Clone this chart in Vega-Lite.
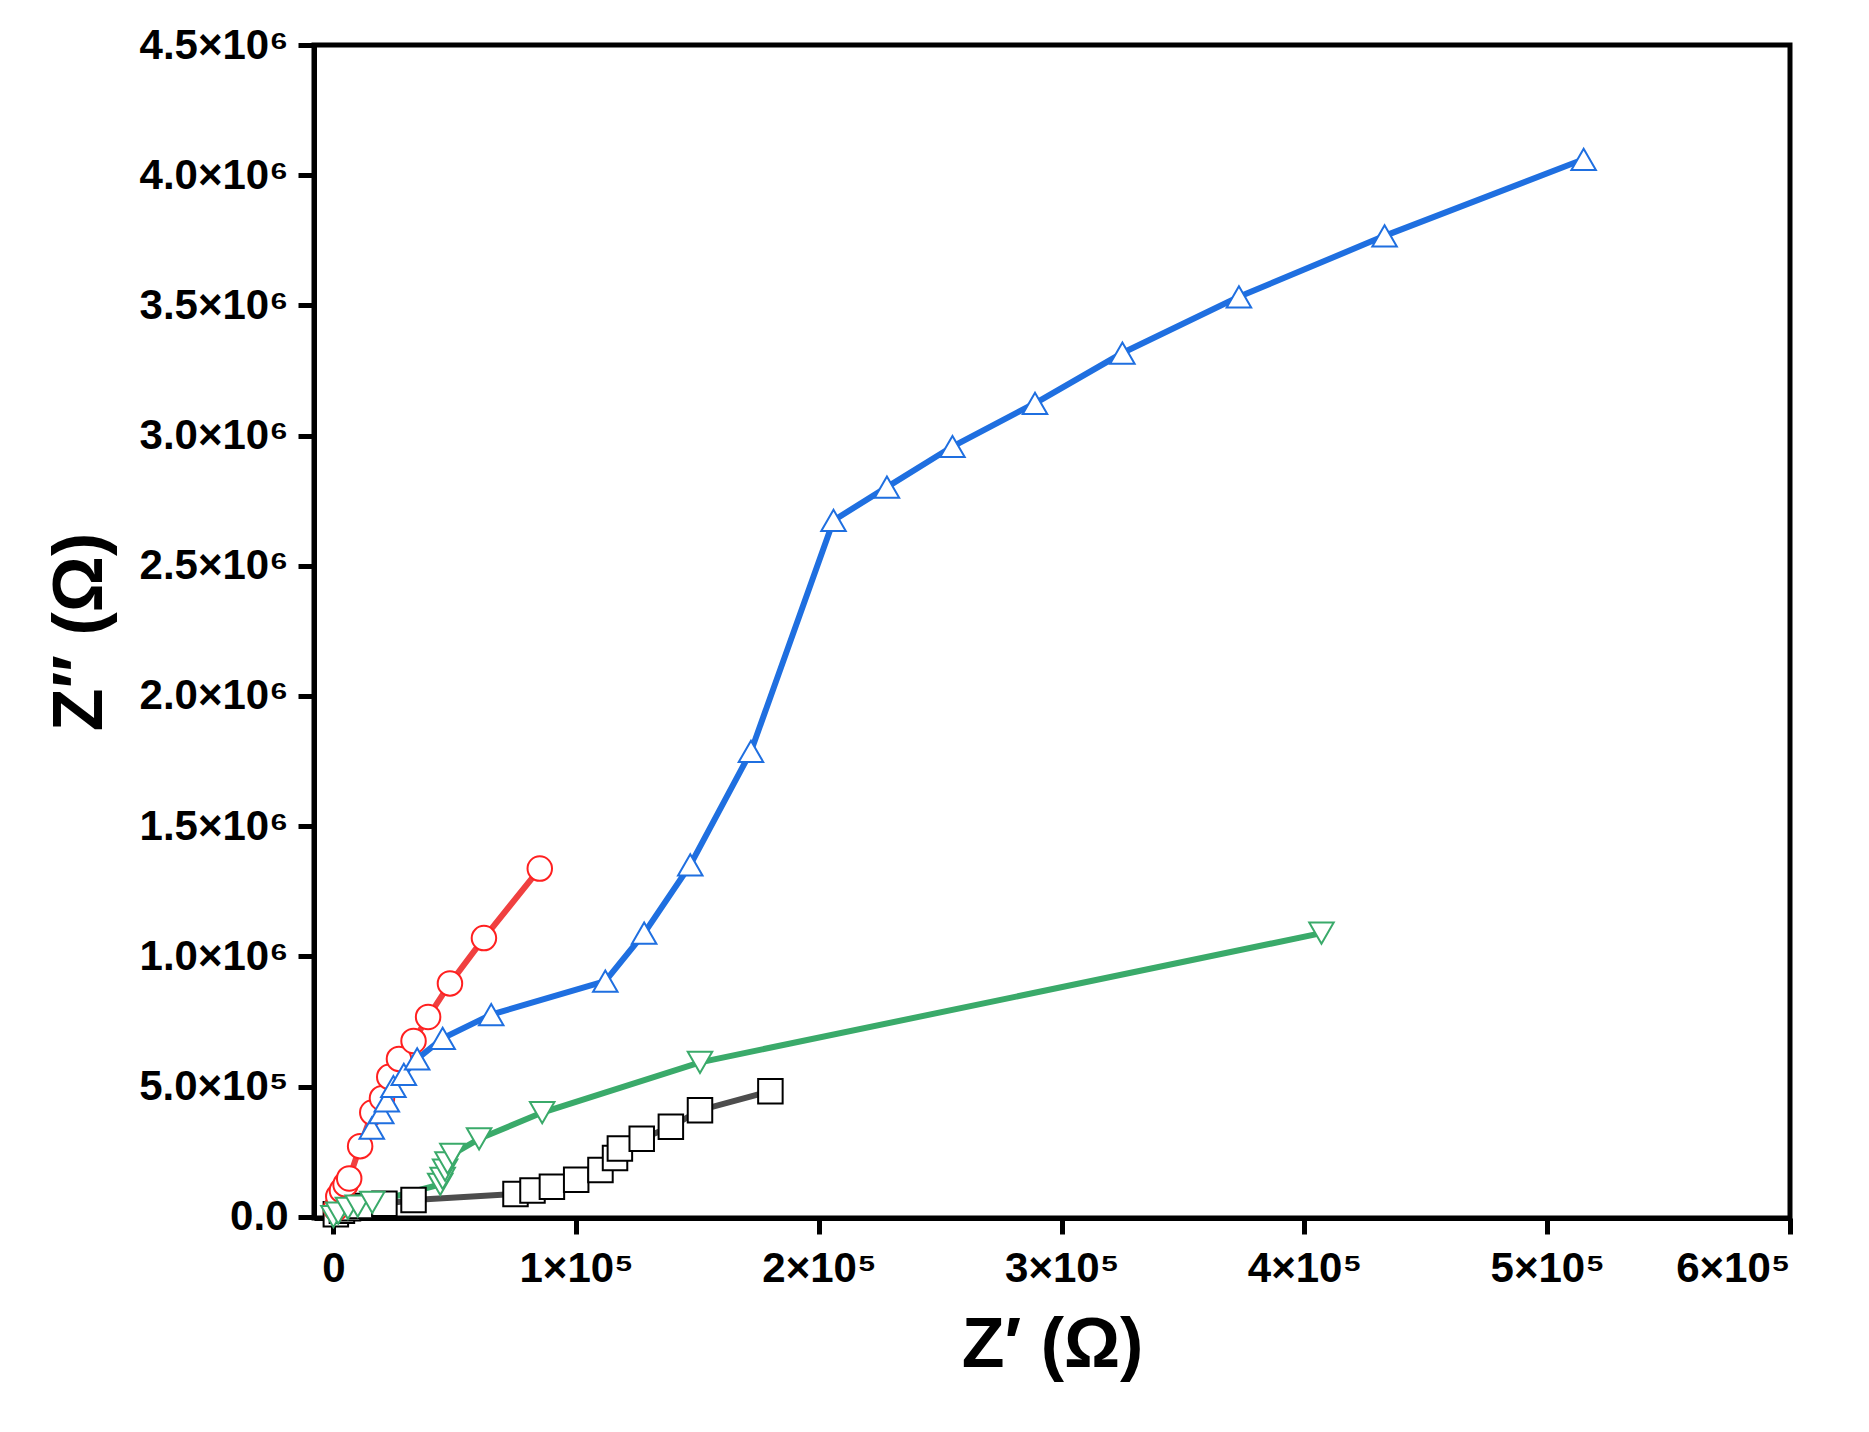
{
  "$schema": "https://vega.github.io/schema/vega-lite/v6.json",
  "width": 1476,
  "height": 1173,
  "autosize": "none",
  "padding": {"left": 314, "top": 45, "right": 79, "bottom": 214},
  "background": "white",
  "config": {
    "font": "Liberation Sans",
    "view": {"stroke": "black", "strokeWidth": 5},
    "axis": {"labelFont": "Liberation Sans", "labelFontWeight": "bold", "labelFontSize": 42, "labelColor": "black",
             "titleFont": "Liberation Sans", "titleFontWeight": "bold", "titleFontSize": 70, "titleColor": "black",
             "domainColor": "black", "domainWidth": 5, "tickColor": "black", "tickWidth": 5, "tickSize": 16, "grid": false}
  },
  "data": {"values": [
    {"s":"PVA","o":1,"x":1000,"y":9000},{"s":"PVA","o":2,"x":3500,"y":23000},{"s":"PVA","o":3,"x":6000,"y":32000},
    {"s":"PVA","o":4,"x":11000,"y":41000},{"s":"PVA","o":5,"x":21000,"y":50000},{"s":"PVA","o":6,"x":33000,"y":64000},
    {"s":"PVA","o":7,"x":75000,"y":87000},{"s":"PVA","o":8,"x":82000,"y":101000},{"s":"PVA","o":9,"x":90000,"y":115000},
    {"s":"PVA","o":10,"x":100000,"y":142000},{"s":"PVA","o":11,"x":110000,"y":179000},{"s":"PVA","o":12,"x":116000,"y":225000},
    {"s":"PVA","o":13,"x":118000,"y":262000},{"s":"PVA","o":14,"x":127000,"y":299000},{"s":"PVA","o":15,"x":139000,"y":345000},
    {"s":"PVA","o":16,"x":151000,"y":409000},{"s":"PVA","o":17,"x":180000,"y":482000},
    {"s":"1Ag/PVA","o":1,"x":1000,"y":32000},{"s":"1Ag/PVA","o":2,"x":2000,"y":78000},{"s":"1Ag/PVA","o":3,"x":3500,"y":101000},
    {"s":"1Ag/PVA","o":4,"x":5000,"y":124000},{"s":"1Ag/PVA","o":5,"x":6500,"y":147000},{"s":"1Ag/PVA","o":6,"x":11000,"y":271000},
    {"s":"1Ag/PVA","o":7,"x":16000,"y":400000},{"s":"1Ag/PVA","o":8,"x":20000,"y":455000},{"s":"1Ag/PVA","o":9,"x":23000,"y":537000},
    {"s":"1Ag/PVA","o":10,"x":27000,"y":606000},{"s":"1Ag/PVA","o":11,"x":33000,"y":675000},{"s":"1Ag/PVA","o":12,"x":39000,"y":767000},
    {"s":"1Ag/PVA","o":13,"x":48000,"y":896000},{"s":"1Ag/PVA","o":14,"x":62000,"y":1070000},{"s":"1Ag/PVA","o":15,"x":85000,"y":1337000},
    {"s":"3Ag/PVA","o":1,"x":15800,"y":340000},{"s":"3Ag/PVA","o":2,"x":19700,"y":400000},{"s":"3Ag/PVA","o":3,"x":22000,"y":445000},
    {"s":"3Ag/PVA","o":4,"x":24700,"y":500000},{"s":"3Ag/PVA","o":5,"x":29000,"y":547000},{"s":"3Ag/PVA","o":6,"x":34500,"y":606000},
    {"s":"3Ag/PVA","o":7,"x":45000,"y":685000},{"s":"3Ag/PVA","o":8,"x":65000,"y":776000},{"s":"3Ag/PVA","o":9,"x":112000,"y":905000},
    {"s":"3Ag/PVA","o":10,"x":128000,"y":1089000},{"s":"3Ag/PVA","o":11,"x":147000,"y":1351000},{"s":"3Ag/PVA","o":12,"x":172000,"y":1787000},
    {"s":"3Ag/PVA","o":13,"x":206000,"y":2674000},{"s":"3Ag/PVA","o":14,"x":228000,"y":2802000},{"s":"3Ag/PVA","o":15,"x":255000,"y":2958000},
    {"s":"3Ag/PVA","o":16,"x":289000,"y":3124000},{"s":"3Ag/PVA","o":17,"x":325000,"y":3317000},{"s":"3Ag/PVA","o":18,"x":373000,"y":3533000},
    {"s":"3Ag/PVA","o":19,"x":433000,"y":3767000},{"s":"3Ag/PVA","o":20,"x":515000,"y":4061000},
    {"s":"5Ag/PVA","o":1,"x":0,"y":0},{"s":"5Ag/PVA","o":2,"x":2000,"y":14000},{"s":"5Ag/PVA","o":3,"x":6000,"y":32000},
    {"s":"5Ag/PVA","o":4,"x":10000,"y":41000},{"s":"5Ag/PVA","o":5,"x":16000,"y":55000},{"s":"5Ag/PVA","o":6,"x":44000,"y":124000},
    {"s":"5Ag/PVA","o":7,"x":45000,"y":147000},{"s":"5Ag/PVA","o":8,"x":46000,"y":179000},{"s":"5Ag/PVA","o":9,"x":47000,"y":207000},
    {"s":"5Ag/PVA","o":10,"x":49000,"y":239000},{"s":"5Ag/PVA","o":11,"x":60000,"y":299000},{"s":"5Ag/PVA","o":12,"x":86000,"y":400000},
    {"s":"5Ag/PVA","o":13,"x":151000,"y":593000},{"s":"5Ag/PVA","o":14,"x":407000,"y":1089000}
  ]},
  "encoding": {
    "x": {"field": "x", "type": "quantitative", "title": "Z′ (Ω)",
          "scale": {"domain": [-8000, 600000], "nice": false, "zero": false},
          "axis": {"values": [0, 100000, 200000, 300000, 400000, 500000, 600000], "labelPadding": 14, "titlePadding": 22,
                   "labelExpr": "datum.value==0 ? '0' : format(datum.value/100000,'d') + '×10⁵'"}},
    "y": {"field": "y", "type": "quantitative", "title": "Z″ (Ω)",
          "scale": {"domain": [-5000, 4500000], "nice": false, "zero": false},
          "axis": {"values": [0, 500000, 1000000, 1500000, 2000000, 2500000, 3000000, 3500000, 4000000, 4500000], "labelPadding": 10, "titlePadding": 22,
                   "labelExpr": "datum.value==0 ? '0.0' : datum.value<1000000 ? format(datum.value/100000,'.1f') + '×10⁵' : format(datum.value/1000000,'.1f') + '×10⁶'"}}
  },
  "layer": [
    {"mark": {"type": "line", "strokeWidth": 6},
     "encoding": {
       "order": {"field": "o"},
       "color": {"field": "s", "type": "nominal",
                 "scale": {"domain": ["PVA", "1Ag/PVA", "3Ag/PVA", "5Ag/PVA"], "range": ["#4d4d4d", "#f04040", "#1f6fe0", "#3aaa6a"]},
                 "legend": null}}},
    {"mark": {"type": "point", "filled": true, "fill": "white", "opacity": 1, "strokeWidth": 2, "size": 600},
     "encoding": {
       "stroke": {"field": "s", "type": "nominal",
                  "scale": {"domain": ["PVA", "1Ag/PVA", "3Ag/PVA", "5Ag/PVA"], "range": ["black", "#ff2020", "#1f6fe0", "#3aaa6a"]},
                  "legend": {"orient": "top-left", "title": null, "labelFontSize": 50, "labelFontWeight": "bold", "labelColor": "black", "labelFont": "Liberation Sans",
                             "symbolSize": 800, "symbolStrokeWidth": 2, "rowPadding": 30, "offset": 10, "labelOffset": 24, "symbolFillColor": "white"}},
       "shape": {"field": "s", "type": "nominal",
                 "scale": {"domain": ["PVA", "1Ag/PVA", "3Ag/PVA", "5Ag/PVA"], "range": ["square", "circle", "triangle-up", "triangle-down"]},
                 "legend": {"orient": "top-left", "title": null, "labelFontSize": 50, "labelFontWeight": "bold", "labelColor": "black", "labelFont": "Liberation Sans",
                            "symbolSize": 800, "symbolStrokeWidth": 2, "rowPadding": 30, "offset": 10, "labelOffset": 24, "symbolFillColor": "white"}}
     }}
  ]
}
